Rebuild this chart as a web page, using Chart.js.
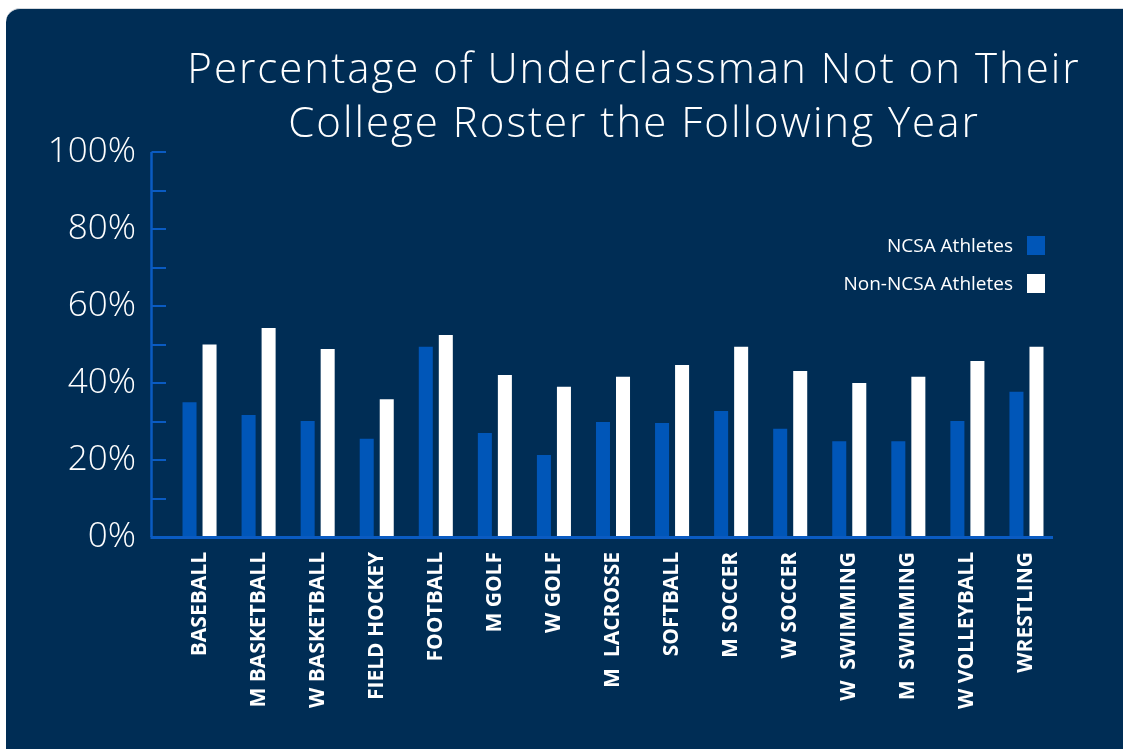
<!DOCTYPE html>
<html>
<head>
<meta charset="utf-8">
<script src="https://cdn.jsdelivr.net/npm/chart.js@4.4.1/dist/chart.umd.min.js"></script>
<style>
  body { margin: 0; background: #ffffff; overflow: hidden; }
  #card {
    position: absolute; left: 6px; top: 8px; width: 1200px; height: 800px;
    background: #002d55; border-radius: 14px; border-top: 1px solid #d4d8dd;
  }
  #wrap { position: absolute; left: 0; top: 0; width: 1123px; height: 749px; }
  #legend { position: absolute; right: 78px; top: 226px; font-family: "Open Sans", sans-serif; font-size: 19px; color: #fff; }
  .row { display: flex; align-items: center; justify-content: flex-end; height: 38px; }
  .box { width: 18px; height: 19px; margin-left: 14px; }
</style>
</head>
<body>
<div id="card"></div>
<div id="wrap">
  <canvas id="rosterChart" width="1123" height="749"></canvas>
  <div id="legend"></div>
</div>
<script>
const sports = ['BASEBALL', 'M BASKETBALL', 'W BASKETBALL', 'FIELD HOCKEY', 'FOOTBALL', 'M GOLF', 'W GOLF',
  'M  LACROSSE', 'SOFTBALL', 'M SOCCER', 'W SOCCER', 'W  SWIMMING', 'M  SWIMMING', 'W VOLLEYBALL', 'WRESTLING'];
const ncsaPct = [35, 31.7, 30.1, 25.5, 49.4, 27, 21.3, 29.9, 29.6, 32.7, 28.1, 24.9, 24.9, 30.1, 37.7];
const nonNcsaPct = [50, 54.3, 48.8, 35.8, 52.5, 42.1, 39, 41.6, 44.7, 49.4, 43.1, 40, 41.6, 45.7, 49.4];
const yTicks = [0, 20, 40, 60, 80, 100];
const titleLines = ['Percentage of Underclassman Not on Their', 'College Roster the Following Year'];

const axisBlue = '#0a5bc2';

// title (centred a bit right of the canvas middle, with tracking)
const spacedTitle = {
    id: 'spacedTitle',
    afterDraw(chart) {
        const ctx = chart.ctx;
        ctx.save();
        ctx.fillStyle = '#ffffff';
        ctx.font = '300 42px "Open Sans"';
        ctx.letterSpacing = '2px';
        ctx.textAlign = 'center';
        ctx.textBaseline = 'alphabetic';
        titleLines.forEach((t, i) => ctx.fillText(t, 634, 83 + i * 54));
        ctx.restore();
    }
};

// y axis with inward minor ticks and the x axis line
const axisLines = {
    id: 'axisLines',
    afterDatasetsDraw(chart) {
        const ctx = chart.ctx;
        const y = chart.scales.y;
        const x0 = 151.5;
        ctx.save();
        ctx.strokeStyle = axisBlue;
        ctx.lineWidth = 2.5;
        ctx.beginPath();
        ctx.moveTo(x0, y.getPixelForValue(100));
        ctx.lineTo(x0, y.getPixelForValue(0));
        ctx.stroke();
        ctx.lineWidth = 2;
        for (let v = 0; v <= 100; v += 10) {
            const py = Math.round(y.getPixelForValue(v));
            ctx.beginPath();
            ctx.moveTo(x0, py);
            ctx.lineTo(166, py);
            ctx.stroke();
        }
        ctx.lineWidth = 3;
        ctx.beginPath();
        ctx.moveTo(x0 - 1, y.getPixelForValue(0) + 0.5);
        ctx.lineTo(1053, y.getPixelForValue(0) + 0.5);
        ctx.stroke();
        ctx.restore();
    }
};

const chart = new Chart(document.getElementById('rosterChart'), {
    type: 'bar',
    data: {
        labels: sports,
        datasets: [{
            label: 'NCSA Athletes',
            data: ncsaPct,
            backgroundColor: '#0056b8'
        }, {
            label: 'Non-NCSA Athletes',
            data: nonNcsaPct,
            backgroundColor: '#ffffff'
        }]
    },
    options: {
        responsive: false,
        animation: false,
        devicePixelRatio: 1,
        layout: { padding: { left: 0, right: 67, top: 152, bottom: 0 } },
        categoryPercentage: 0.678,
        barPercentage: 0.7,
        plugins: {
            legend: { display: false },
            tooltip: { enabled: false },
            title: { display: false }
        },
        scales: {
            x: {
                grid: { display: false, drawTicks: false },
                border: { display: false },
                ticks: {
                    color: '#ffffff',
                    autoSkip: false,
                    minRotation: 90,
                    maxRotation: 90,
                    padding: 15,
                    font: { family: 'Open Sans', size: 21, weight: 'bold' }
                },
                afterFit(scale) { scale.height = 212; }
            },
            y: {
                min: 0,
                max: 100,
                afterBuildTicks(scale) { scale.ticks = yTicks.map(v => ({ value: v })); },
                grid: { display: false, drawTicks: false },
                border: { display: false },
                ticks: {
                    color: '#ffffff',
                    padding: 34,
                    font: { family: 'Open Sans', size: 35, weight: 300 },
                    callback: v => v + '%'
                },
                afterFit(scale) { scale.width = 170; }
            }
        }
    },
    plugins: [axisLines, spacedTitle]
});

// legend on the right, text left of the box
const legend = document.getElementById('legend');
chart.data.datasets.forEach(ds => {
    const row = document.createElement('div');
    row.className = 'row';
    row.innerHTML = `<span>${ds.label}</span><span class="box" style="background:${ds.backgroundColor}"></span>`;
    legend.appendChild(row);
});
</script>
</body>
</html>
